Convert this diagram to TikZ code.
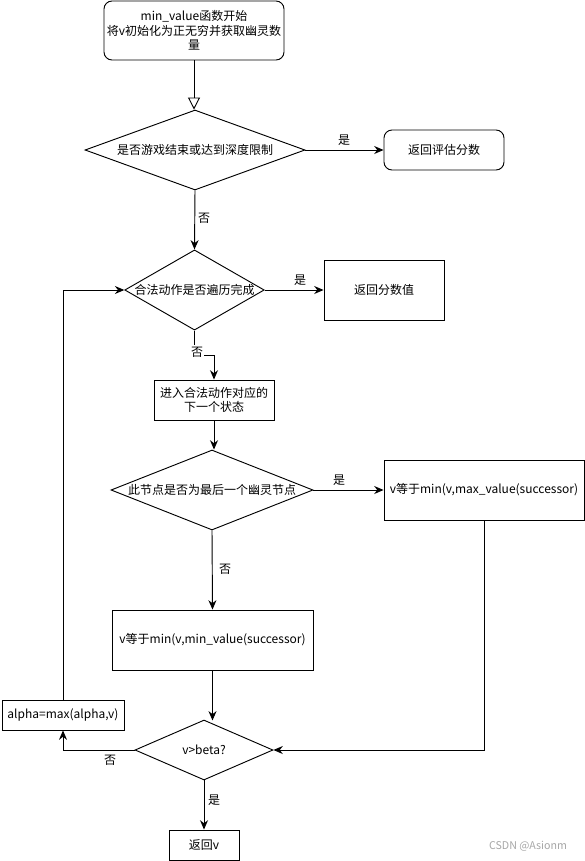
\documentclass[tikz,border=0pt]{standalone}
\usepackage{fontspec}
\setmainfont{Noto Sans CJK SC}
\usetikzlibrary{shapes.geometric,arrows.meta}
\tikzset{
  box/.style={draw,rectangle,inner sep=0pt,align=center,font=\small},
  rbox/.style={box,rounded corners=6pt},
  dia/.style={draw,diamond,inner sep=0pt,align=center,font=\small},
  arr/.style={-{Stealth[length=7pt,width=6pt]},line width=0.7pt},
  lbl/.style={font=\small,fill=white,inner sep=1pt}
}
\begin{document}
\begin{tikzpicture}[x=0.75pt,y=-0.75pt,line width=0.7pt]
\useasboundingbox (0,0) rectangle (585,861);
% top part
\node (start) [rbox,minimum width=180*0.75pt,minimum height=59*0.75pt] at (194,30.5) {min\_value函数开始\\将v初始化为正无穷并获取幽灵数\\量};
\node (dia1) [dia,minimum width=220*0.75pt,minimum height=80*0.75pt,aspect=2.75] at (195,150) {是否游戏结束或达到深度限制};
\node (ret1) [rbox,minimum width=120*0.75pt,minimum height=40*0.75pt] at (444,150) {返回评估分数};
\node (dia2) [dia,minimum width=139*0.75pt,minimum height=80*0.75pt,aspect=1.74] at (194.5,290) {合法动作是否遍历完成};
\node (ret2) [box,minimum width=120*0.75pt,minimum height=60*0.75pt] at (384,290) {返回分数值};
\node (next) [box,minimum width=120*0.75pt,minimum height=40*0.75pt] at (214,400) {进入合法动作对应的\\下一个状态};
% ghost nodes
\node (dia3) [dia,minimum width=202*0.75pt,minimum height=80*0.75pt,aspect=2.52] at (212,490) {此节点是否为最后一个幽灵节点};
\node (vmax) [box,minimum width=200*0.75pt,minimum height=60*0.75pt] at (484,490) {v等于min(v,max\_value(successor)};
\node (vmin) [box,minimum width=201*0.75pt,minimum height=60*0.75pt] at (212.5,640) {v等于min(v,min\_value(successor)};
\node (dia4) [dia,minimum width=138*0.75pt,minimum height=60*0.75pt,aspect=2.3] at (204,750) {v>beta?};
\node (alpha) [box,minimum width=122*0.75pt,minimum height=30*0.75pt] at (63,715) {alpha=max(alpha,v)};
\node (retv) [box,minimum width=70*0.75pt,minimum height=30*0.75pt] at (204,845) {返回v};
\node (mark) [font=\footnotesize,text=gray!70] at (528,846) {CSDN @Asionm};
% connectors
\draw [-{Triangle[open,length=9pt,width=9pt]}] (start.south) -- (start.south |- dia1.north);
\draw [arr] (dia1.east) -- (ret1.west);
\node (y1) [font=\small] at (344,140) {是};
\draw [arr] (dia1.south) -- (dia2.north);
\node (n1) [font=\small] at (204,218) {否};
\draw [arr] (dia2.east) -- (ret2.west);
\node (y2) [font=\small] at (300,280) {是};
\draw [arr] (dia2.south) -- ++(0,25) -| (next.north);
\node (n2) [lbl] at (197,352) {否};
\draw [arr] (next.south) -- (next.south |- dia3.north);
\draw [arr] (dia3.east) -- (vmax.west);
\node (y3) [font=\small] at (339,480) {是};
\draw [arr] (dia3.south) -- (vmin.north);
\node (n3) [font=\small] at (225,569) {否};
\draw [arr] (vmin.south) -- ++(0,50);
\draw [arr] (vmax.south) |- (dia4.east);
\draw [arr] (dia4.west) -| (alpha.south);
\node (n4) [font=\small] at (110,760) {否};
\draw [arr] (alpha.north) |- (dia2.west);
\draw [arr] (dia4.south) -- (retv.north);
\node (y4) [font=\small] at (214,800) {是};
\end{tikzpicture}
\end{document}
